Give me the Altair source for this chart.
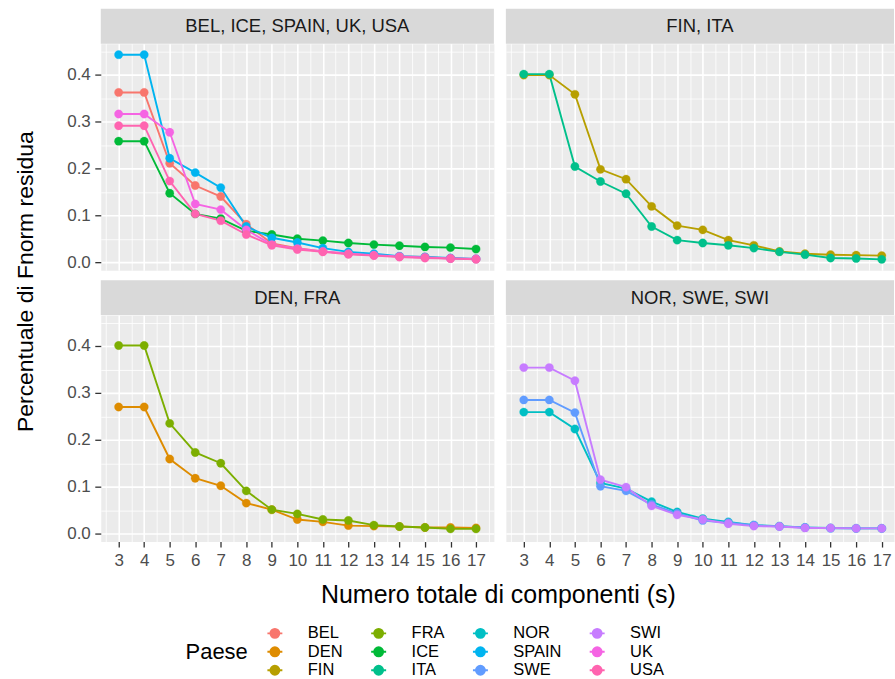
import altair as alt
import pandas as pd

x_vals = list(range(3, 18))
countries = ["BEL", "DEN", "FIN", "FRA", "ICE", "ITA", "NOR", "SPAIN", "SWE", "SWI", "UK", "USA"]
colors = ["#F8766D", "#DE8C00", "#B79F00", "#7CAE00", "#00BA38", "#00C08B",
          "#00BFC4", "#00B4F0", "#619CFF", "#C77CFF", "#F564E3", "#FF64B0"]

BEL = [0.362, 0.362, 0.211, 0.1635, 0.140, 0.081, 0.040, 0.030, 0.023, 0.018, 0.015, 0.012, 0.011, 0.008, 0.007]
DEN = [0.270, 0.270, 0.159, 0.118, 0.102, 0.065, 0.051, 0.030, 0.025, 0.017, 0.016, 0.015, 0.013, 0.013, 0.012]
FIN = [0.399, 0.399, 0.358, 0.198, 0.177, 0.119, 0.078, 0.069, 0.047, 0.036, 0.023, 0.018, 0.016, 0.015, 0.014]
FRA = [0.401, 0.401, 0.235, 0.173, 0.150, 0.091, 0.051, 0.042, 0.030, 0.028, 0.018, 0.015, 0.013, 0.010, 0.010]
ICE = [0.258, 0.258, 0.147, 0.103, 0.093, 0.067, 0.059, 0.050, 0.046, 0.041, 0.0375, 0.035, 0.0325, 0.031, 0.028]
ITA = [0.401, 0.401, 0.204, 0.172, 0.146, 0.076, 0.047, 0.041, 0.036, 0.030, 0.022, 0.016, 0.009, 0.008, 0.006]
NOR = [0.259, 0.259, 0.223, 0.108, 0.096, 0.068, 0.046, 0.032, 0.025, 0.018, 0.016, 0.013, 0.012, 0.011, 0.011]
SPAIN = [0.4425, 0.4425, 0.2216, 0.191, 0.159, 0.076, 0.052, 0.042, 0.030, 0.022, 0.018, 0.013, 0.011, 0.009, 0.007]
SWE = [0.285, 0.285, 0.258, 0.101, 0.091, 0.062, 0.043, 0.028, 0.023, 0.018, 0.015, 0.013, 0.011, 0.011, 0.011]
SWI = [0.354, 0.354, 0.326, 0.115, 0.099, 0.059, 0.040, 0.030, 0.021, 0.016, 0.015, 0.012, 0.012, 0.011, 0.011]
UK = [0.316, 0.316, 0.277, 0.124, 0.112, 0.069, 0.0375, 0.029, 0.023, 0.018, 0.015, 0.012, 0.010, 0.008, 0.007]
USA = [0.291, 0.291, 0.173, 0.103, 0.0885, 0.059, 0.036, 0.027, 0.022, 0.017, 0.014, 0.011, 0.009, 0.008, 0.006]

series = {"BEL": BEL, "DEN": DEN, "FIN": FIN, "FRA": FRA, "ICE": ICE, "ITA": ITA,
          "NOR": NOR, "SPAIN": SPAIN, "SWE": SWE, "SWI": SWI, "UK": UK, "USA": USA}

panel_labels = ["BEL, ICE, SPAIN, UK, USA", "FIN, ITA", "DEN, FRA", "NOR, SWE, SWI"]
panel_members = [["BEL", "ICE", "SPAIN", "UK", "USA"], ["FIN", "ITA"], ["DEN", "FRA"], ["NOR", "SWE", "SWI"]]

y_title = "Percentuale di Fnorm residua"
x_title = "Numero totale di componenti (s)"
legend_title = "Paese"

rows = []
for c in countries:
    for xv, yv in zip(x_vals, series[c]):
        rows.append({"s": xv, "v": yv, "Paese": c})
data = pd.DataFrame(rows)

FONT = "Liberation Sans"
H = 227
MINOR_X = "round(datum.value*2) % 2 == 1"
MINOR_Y = "round(datum.value*20) % 2 == 1"
y_grid_vals = [round(i * 0.05, 2) for i in range(10)]

legend = alt.Legend(
    title=legend_title, orient="none", legendX=85, legendY=582.5, columns=4,
    titleOrient="left", titleAnchor="middle", titleBaseline="middle",
    titleFontSize=22, titleFontWeight="normal", titleColor="black", titleFont=FONT,
    titlePadding=18, labelFontSize=16.5, labelColor="black", labelFont=FONT,
    labelOffset=24.5, columnPadding=24, rowPadding=1.5, padding=0,
    symbolType="M-1,0H1M-0.6,0A0.6,0.6,0,1,1,0.6,0A0.6,0.6,0,1,1,-0.6,0Z",
    symbolSize=225, symbolStrokeWidth=1.9, symbolOpacity=1,
)
cscale = alt.Scale(domain=countries, range=colors)
stroke_enc = alt.Stroke("Paese:N", scale=cscale, legend=legend)
fill_enc = alt.Fill("Paese:N", scale=cscale, legend=legend)


def panel(idx, left, bottom, width, xmax):
    label = panel_labels[idx]
    df = data[data["Paese"].isin(panel_members[idx])]
    xs = alt.Scale(domain=[2.3, xmax], nice=False, zero=False)
    ys = alt.Scale(domain=[-0.017, 0.466], nice=False, zero=False)
    x_grid_vals = [v / 2 for v in range(5, 36) if v / 2 <= xmax]
    x_axis_kw = dict(
        values=x_grid_vals, grid=True, gridColor="white",
        gridWidth={"condition": {"test": MINOR_X, "value": 0.8}, "value": 1.6},
        domain=False, labels=bottom, ticks=bottom, labelOverlap=False,
        tickOpacity={"condition": {"test": MINOR_X, "value": 0}, "value": 1},
        labelExpr="round(datum.value*2) % 2 == 1 ? '' : format(datum.value, 'd')",
        tickSize=5.5, labelPadding=5.5, tickColor="#333333", tickWidth=1.3,
        labelColor="#4D4D4D", labelFontSize=17, labelFont=FONT,
    )
    if bottom and left:
        x_axis_kw.update(title=x_title, titleX=398, titleY=60.7, titleBaseline="alphabetic",
                         titleAlign="center", titleFontSize=25, titleFontWeight="normal",
                         titleColor="black", titleFont=FONT)
    else:
        x_axis_kw.update(title="")
    y_axis_kw = dict(
        values=y_grid_vals, grid=True, gridColor="white",
        gridWidth={"condition": {"test": MINOR_Y, "value": 0.8}, "value": 1.6},
        domain=False, labels=left, ticks=left, labelOverlap=False,
        tickOpacity={"condition": {"test": MINOR_Y, "value": 0}, "value": 1},
        labelExpr="round(datum.value*20) % 2 == 1 ? '' : format(datum.value, '.1f')",
        tickSize=6, labelPadding=4.5, tickColor="#333333", tickWidth=1.3,
        labelColor="#4D4D4D", labelFontSize=17, labelFont=FONT,
    )
    if left and not bottom:
        y_axis_kw.update(title=y_title, titleX=-68.3, titleY=238, titleAngle=270,
                         titleBaseline="alphabetic", titleAlign="center", titleFontSize=23,
                         titleFontWeight="normal", titleColor="black", titleFont=FONT)
    else:
        y_axis_kw.update(title="")
    X = alt.X("s:Q", scale=xs, axis=alt.Axis(**x_axis_kw))
    Y = alt.Y("v:Q", scale=ys, axis=alt.Axis(**y_axis_kw))

    lab = pd.DataFrame({"label": [label]})
    strip = alt.Chart(lab).mark_rect(color="#D9D9D9").encode(
        x=alt.value(0), x2=alt.value(width), y=alt.value(-35), y2=alt.value(0))
    strip_text = alt.Chart(lab).mark_text(
        fontSize=18.5, color="#1A1A1A", font=FONT, align="center", baseline="middle"
    ).encode(text="label:N", x=alt.value(width / 2), y=alt.value(-17.5))
    base = alt.Chart(df)
    lines = base.mark_line(strokeWidth=1.9).encode(x=X, y=Y, stroke=stroke_enc, detail="Paese:N")
    points = base.mark_point(filled=True, size=70, opacity=1, strokeWidth=0.3).encode(
        x=X, y=Y, fill=fill_enc, stroke=stroke_enc)
    layers = [strip, strip_text, lines, points]
    if idx == 0:
        anchor = alt.Chart(lab).mark_rect(opacity=0).encode(
            x=alt.value(-100), x2=alt.value(-99), y=alt.value(-42), y2=alt.value(-41))
        layers = [anchor] + layers
    return alt.layer(*layers).properties(width=width, height=H)


tl = panel(0, True, False, 394, 17.7)
tr = panel(1, False, False, 389, 17.48)
bl = panel(2, True, True, 394, 17.7)
br = panel(3, False, True, 389, 17.48)

chart = alt.concat(
    tl, tr, bl, br, columns=2, spacing={"row": 45, "column": 12}, bounds="flush"
).properties(padding=0, background="white").configure(font=FONT).configure_view(
    fill="#EBEBEB", stroke="transparent")

chart.save("out.html", embed_options={"renderer": "svg", "actions": False})
